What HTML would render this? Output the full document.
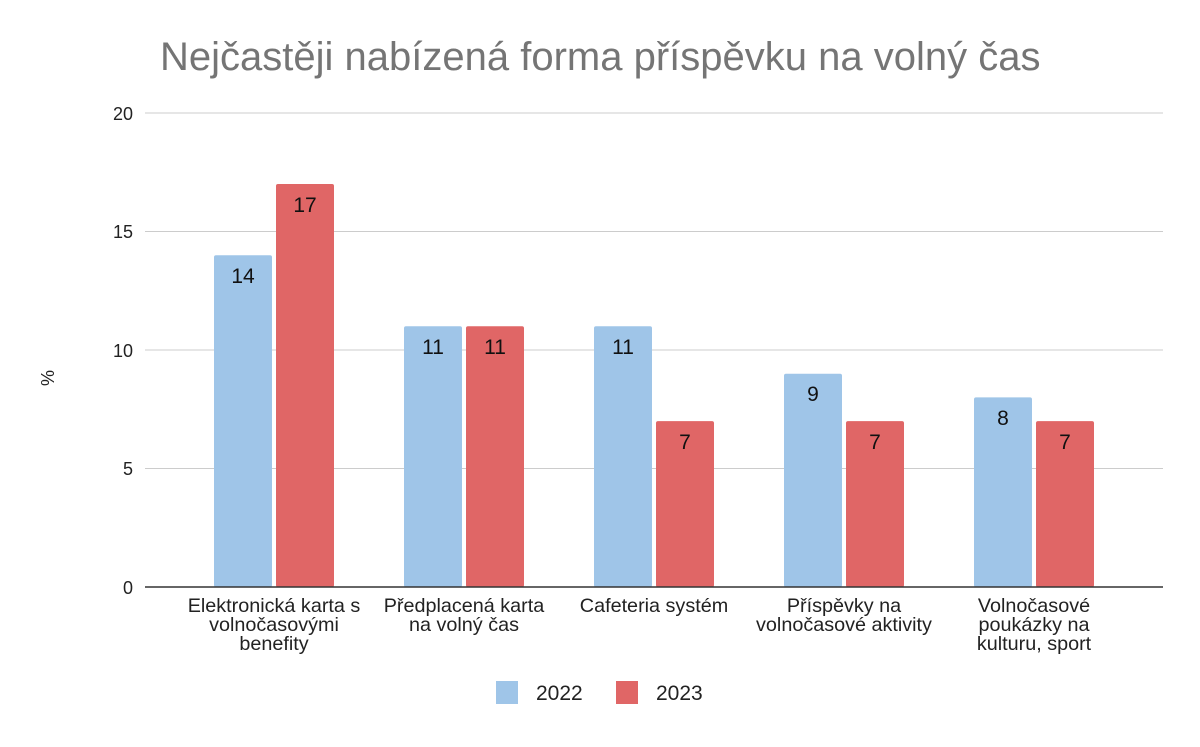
<!DOCTYPE html>
<html><head><meta charset="utf-8"><style>body{margin:0;background:#fff}</style></head><body>
<svg width="1200" height="742" xmlns="http://www.w3.org/2000/svg" font-family="Liberation Sans, sans-serif">
<rect width="1200" height="742" fill="#fff"/>
<text x="160" y="70" font-size="40" fill="#757575">Nejčastěji nabízená forma příspěvku na volný čas</text>
<g stroke="#cccccc" stroke-width="1">
<line x1="145" x2="1163" y1="113" y2="113"/>
<line x1="145" x2="1163" y1="231.5" y2="231.5"/>
<line x1="145" x2="1163" y1="350" y2="350"/>
<line x1="145" x2="1163" y1="468.5" y2="468.5"/>
</g>
<g font-size="18" fill="#222" text-anchor="end">
<text x="133" y="120">20</text><text x="133" y="238">15</text><text x="133" y="357">10</text><text x="133" y="475">5</text><text x="133" y="594">0</text>
</g>
<text transform="translate(54,378) rotate(-90)" font-size="18" fill="#222" text-anchor="middle">%</text>
<g fill="#9fc5e8">
<rect x="214" y="255.2" width="58" height="331.8" rx="2"/>
<rect x="404" y="326.3" width="58" height="260.7" rx="2"/>
<rect x="594" y="326.3" width="58" height="260.7" rx="2"/>
<rect x="784" y="373.7" width="58" height="213.3" rx="2"/>
<rect x="974" y="397.4" width="58" height="189.6" rx="2"/>
</g>
<g fill="#e06666">
<rect x="276" y="184" width="58" height="403" rx="2"/>
<rect x="466" y="326.3" width="58" height="260.7" rx="2"/>
<rect x="656" y="421.1" width="58" height="165.9" rx="2"/>
<rect x="846" y="421.1" width="58" height="165.9" rx="2"/>
<rect x="1036" y="421.1" width="58" height="165.9" rx="2"/>
</g>
<g font-size="21" fill="#111" text-anchor="middle">
<text x="243" y="283">14</text><text x="305" y="212">17</text>
<text x="433" y="354">11</text><text x="495" y="354">11</text>
<text x="623" y="354">11</text><text x="685" y="449">7</text>
<text x="813" y="401">9</text><text x="875" y="449">7</text>
<text x="1003" y="425">8</text><text x="1065" y="449">7</text>
</g>
<line x1="145" x2="1163" y1="587" y2="587" stroke="#333" stroke-width="1.5"/>
<g font-size="19.8" fill="#222" text-anchor="middle">
<text x="274" y="612">Elektronická karta s</text><text x="274" y="631">volnočasovými</text><text x="274" y="650">benefity</text>
<text x="464" y="612">Předplacená karta</text><text x="464" y="631">na volný čas</text>
<text x="654" y="612">Cafeteria systém</text>
<text x="844" y="612">Příspěvky na</text><text x="844" y="631">volnočasové aktivity</text>
<text x="1034" y="612">Volnočasové</text><text x="1034" y="631">poukázky na</text><text x="1034" y="650">kulturu, sport</text>
</g>
<rect x="496" y="681" width="22" height="23" fill="#9fc5e8"/>
<text x="536" y="700" font-size="21" fill="#222">2022</text>
<rect x="616" y="681" width="22" height="23" fill="#e06666"/>
<text x="656" y="700" font-size="21" fill="#222">2023</text>
</svg>
</body></html>
